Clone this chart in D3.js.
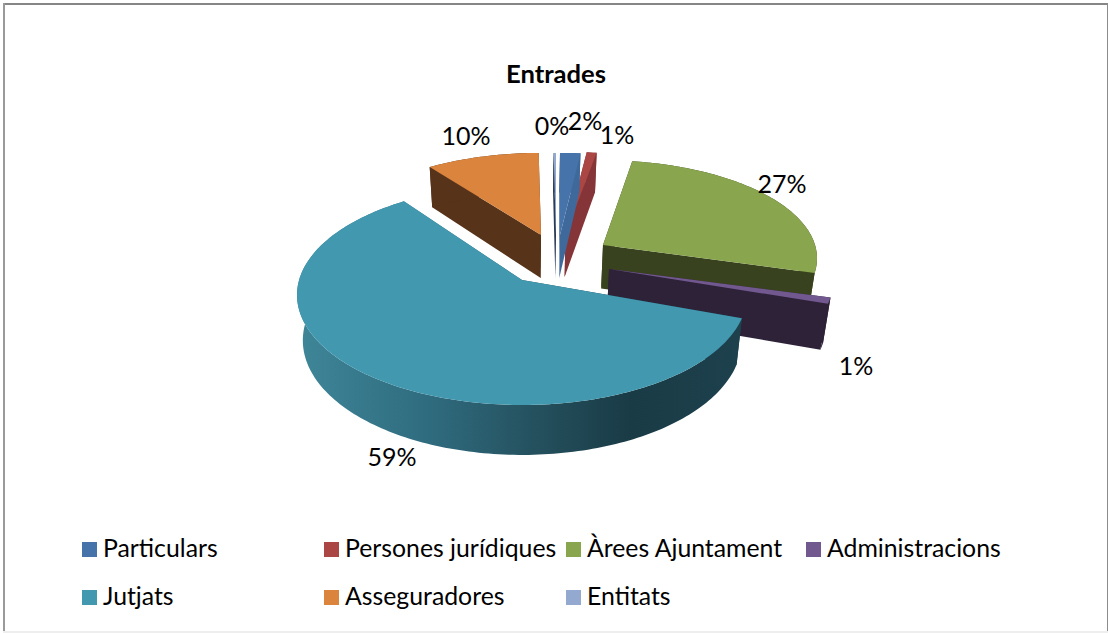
<!DOCTYPE html>
<html><head><meta charset="utf-8">
<script src="https://cdn.jsdelivr.net/npm/d3@7"></script>
<style>html,body{margin:0;padding:0;background:#fff;overflow:hidden}svg{display:block}text{font-family:Lato,"Noto Sans",sans-serif;fill:#000}</style>
</head><body><svg id="c" width="1108" height="633"></svg>
<script>
const categories = ["Particulars","Persones jurídiques","Àrees Ajuntament","Administracions","Jutjats","Asseguradores","Entitats"];
const values = [1.7,0.8,27,1,59.49,9.81,0.2];
const colors = ["#4674aa","#aa4643","#89a54e","#71588f","#4198af","#db843d","#93a9cf"];
const wallColors = ["#3f689b","#853538","#39421e","#2e2238","url(#rim)","#57331a","#2c3c55"];

// layout of each exploded slice: apex of the top face, radii of the projected circle, label position
const apex = [[560,235],[565.5,234],[603,245],[609,269],[522,280],[541,235],[556,235]];
const radii = [[220,95],[228,95],[214,98],[224,100],[225,110],[212,95],[215,95]];
const labelPos = [[585,120],[617,134],[782,183],[856,365],[392,456],[466,135],[552,125]];
const legendCols = [82,324,566,806], legendRows = [547.5,595.5];
const legendSwatchRows = [549.5,597.5];
const tilt = 0.136;

const svg = d3.select("#c");
const grad = svg.append("defs").append("linearGradient").attr("id","rim").attr("gradientUnits","userSpaceOnUse")
  .attr("x1",297).attr("x2",742).attr("y1",0).attr("y2",0);
[[0,"#3f8699"],[0.3,"#2f6b7e"],[0.55,"#244f5c"],[0.75,"#193b46"],[1,"#1d414d"]].forEach(s=>grad.append("stop").attr("offset",s[0]).attr("stop-color",s[1]));

// frame
svg.append("rect").attr("x",3).attr("y",3).attr("width",1106).attr("height",2).attr("fill","#868686");
svg.append("rect").attr("x",3).attr("y",3).attr("width",2).attr("height",632).attr("fill","#9a9a9a");
svg.append("rect").attr("x",1107).attr("y",3).attr("width",1).attr("height",632).attr("fill","#8c8c8c");
svg.append("rect").attr("x",3).attr("y",631).attr("width",1105).attr("height",2).attr("fill","#eeeeee");

const arcs = d3.pie().sort(null).value(d=>d)(values);
const project = (i,t,r=1)=>{ // t clockwise from the top, r fraction of the radius
  const x=r*Math.sin(t), y=r*Math.cos(t), k=1+tilt*y;
  const px=x*Math.sqrt(1-tilt*tilt)/k, py=(y+tilt)/k;
  return [apex[i][0]+radii[i][0]*px, apex[i][1]-radii[i][1]*(py-tilt)];
};
const vanish=530;
const drop = p=>[vanish+(p[0]-vanish)*0.975, p[1]+43+(p[1]-235)*0.041];
const line = d3.line();

const order = d3.range(values.length).sort((a,b)=>apex[a][1]-apex[b][1]);
order.forEach(i=>{
  const a=arcs[i], n=Math.max(2,Math.ceil((a.endAngle-a.startAngle)/0.02));
  const rim=d3.range(n+1).map(k=>project(i,a.startAngle+(a.endAngle-a.startAngle)*k/n));
  const c=project(i,0,0), g=svg.append("g");
  const wall=d=>g.append("path").attr("d",line(d)+"Z").attr("fill",wallColors[i]);
  const r0=rim[0], r1=rim[n];
  wall([c,r0,drop(r0),drop(c)]);
  wall([c,r1,drop(r1),drop(c)]);
  wall(rim.concat(rim.map(drop).reverse()));
  g.append("path").attr("d",line([c].concat(rim))+"Z").attr("fill",colors[i]);
});

values.forEach((v,i)=>{
  svg.append("text").attr("x",labelPos[i][0]).attr("y",labelPos[i][1]).attr("text-anchor","middle")
    .attr("dominant-baseline","central").attr("font-size",25).text(Math.round(v)+"%");
  const col=i<4?i:i-4, row=i<4?0:1;
  svg.append("rect").attr("x",legendCols[col]).attr("y",legendSwatchRows[row]-7.5).attr("width",15).attr("height",15).attr("fill",colors[i]);
  svg.append("text").attr("x",legendCols[col]+21).attr("y",legendRows[row]).attr("dominant-baseline","central")
    .attr("font-size",24.8).text(categories[i]);
});
svg.append("text").attr("x",556).attr("y",73).attr("text-anchor","middle").attr("dominant-baseline","central")
  .attr("font-size",25.6).attr("font-weight",700).text("Entrades");
</script></body></html>
